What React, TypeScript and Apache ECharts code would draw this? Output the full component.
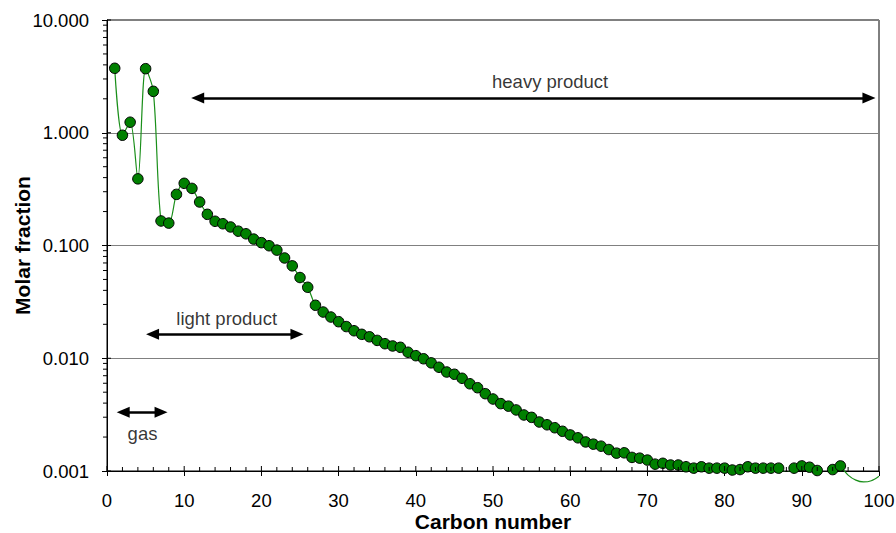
import React, { useEffect, useRef } from "react";
import * as echarts from "echarts";

const FONT = "'Liberation Sans', Arial, Helvetica, sans-serif";

const carbonNumber = [
  1, 2, 3, 4, 5, 6, 7, 8, 9, 10, 11, 12, 13, 14, 15, 16, 17, 18, 19, 20,
  21, 22, 23, 24, 25, 26, 27, 28, 29, 30, 31, 32, 33, 34, 35, 36, 37, 38, 39, 40,
  41, 42, 43, 44, 45, 46, 47, 48, 49, 50, 51, 52, 53, 54, 55, 56, 57, 58, 59, 60,
  61, 62, 63, 64, 65, 66, 67, 68, 69, 70, 71, 72, 73, 74, 75, 76, 77, 78, 79, 80,
  81, 82, 83, 84, 85, 86, 87, 88, 89, 90, 91, 92, 93, 94, 95,
];

const molarFraction = [
  3.73, 0.95, 1.24, 0.39, 3.7, 2.33, 0.165, 0.158, 0.284, 0.356,
  0.321, 0.243, 0.189, 0.164, 0.156, 0.146, 0.134, 0.127, 0.114, 0.106,
  0.0995, 0.091, 0.0775, 0.066, 0.052, 0.0426, 0.0295, 0.0257, 0.0232, 0.0211,
  0.0191, 0.01754, 0.0163, 0.0155, 0.0144, 0.01346, 0.01285, 0.0125, 0.0113, 0.01054,
  0.0099, 0.0091, 0.00832, 0.00755, 0.00721, 0.00664, 0.00594, 0.00548, 0.00485, 0.00435,
  0.00396, 0.00376, 0.00348, 0.00314, 0.00299, 0.00272, 0.00257, 0.00242, 0.00225, 0.00209,
  0.00197, 0.00181, 0.00173, 0.00166, 0.00155, 0.00144, 0.00145, 0.00132, 0.0013, 0.00125,
  0.00115, 0.00117, 0.00113, 0.00113, 0.00109, 0.00106, 0.00109, 0.00106, 0.00106, 0.00106,
  0.00102, 0.00103, 0.00109, 0.00106, 0.00106, 0.00106, 0.00106, 0.00097, 0.00106, 0.00111,
  0.00108, 0.00101, 0.00095, 0.00103, 0.00111,
];

// smoothed line continuing below the axis after the last point
const tailCarbon = [95, 96, 97, 98, 99, 100];
const tailFraction = [0.00111, 0.00092, 0.00083, 0.0008, 0.00082, 0.0009];

// double-headed arrows (data coords)
const arrowNames = ["heavy product", "light product", "gas"];
const arrowFromX = [11.75, 5.9, 2.1];
const arrowToX = [98.7, 24.6, 7.0];
const arrowY = [2.03, 0.0163, 0.00332];

// annotation texts (data coords)
const labelX = [57.4, 15.5, 4.6];
const labelY = [2.84, 0.0226, 0.00217];

const yMajor = [0.001, 0.01, 0.1, 1, 10];
const mantissas = [2, 3, 4, 5, 6, 7, 8, 9];
const xMajor = [0, 10, 20, 30, 40, 50, 60, 70, 80, 90, 100];

export default function App() {
  const ref = useRef<HTMLDivElement>(null);

  useEffect(() => {
    document.body.style.margin = "0";
    const chart = echarts.init(ref.current!, null, { renderer: "svg" });

    const mainData = carbonNumber.map((c, i) => [c, molarFraction[i]]);
    const tailData = tailCarbon.map((c, i) => [c, tailFraction[i]]);

    // tick marks: [x, y, kind] kind 0 = y minor (left), 1 = x minor (up), 2 = y major inner (right), 3 = x major inner (up)
    const ticks: number[][] = [];
    for (let d = 0; d < yMajor.length - 1; d++) {
      for (const m of mantissas) ticks.push([0, yMajor[d] * m, 0]);
    }
    for (let x = 2; x < 100; x += 2) {
      if (x % 10 !== 0) ticks.push([x, 0.001, 1]);
    }
    for (const v of yMajor) ticks.push([0, v, 2]);
    for (const x of xMajor) ticks.push([x, 0.001, 3]);

    const option: any = {
      animation: false,
      backgroundColor: "#fff",
      textStyle: { fontFamily: FONT },
      grid: {
        left: 107,
        right: 17,
        top: 20,
        bottom: 62,
        containLabel: false,
        outerBoundsMode: "none",
        show: true,
        borderColor: "#000",
        borderWidth: 1,
        backgroundColor: "transparent",
      },
      xAxis: {
        type: "value",
        min: 0,
        max: 100,
        interval: 10,
        axisLine: { onZero: false, lineStyle: { color: "#000", width: 1 } },
        axisTick: { show: true, length: 5, lineStyle: { color: "#000", width: 1 } },
        axisLabel: { margin: 20, fontSize: 18.5, color: "#000", fontFamily: FONT },
        splitLine: { show: false },
        name: "Carbon number",
        nameLocation: "middle",
        nameGap: 40,
        nameMoveOverlap: false,
        nameTextStyle: { fontWeight: "bold", fontSize: 21, color: "#000", fontFamily: FONT },
      },
      yAxis: {
        type: "log",
        logBase: 10,
        min: 0.001,
        max: 10,
        axisLine: { show: true, lineStyle: { color: "#000", width: 1 } },
        axisTick: { show: true, length: 5, lineStyle: { color: "#000", width: 1 } },
        axisLabel: {
          margin: 18,
          fontSize: 18.5,
          color: "#000",
          fontFamily: FONT,
          formatter: (v: number) => Number(v).toFixed(3),
        },
        splitLine: { show: true, lineStyle: { color: "#808080", width: 1 } },
        name: "Molar fraction",
        nameLocation: "middle",
        nameGap: 74,
        nameMoveOverlap: false,
        nameRotate: 90,
        nameTextStyle: { fontWeight: "bold", fontSize: 21, color: "#000", fontFamily: FONT },
      },
      series: [
        {
          type: "line",
          name: "molar fraction",
          data: mainData,
          smooth: 0.3,
          symbol: "circle",
          symbolSize: 10.5,
          clip: true,
          itemStyle: { color: "#008000", borderColor: "#000", borderWidth: 1 },
          lineStyle: { color: "#1a8f1a", width: 1.2 },
          z: 4,
        },
        {
          type: "line",
          name: "tail",
          data: tailData,
          smooth: 0.3,
          symbol: "none",
          clip: false,
          lineStyle: { color: "#1a8f1a", width: 1.2 },
          z: 3,
        },
        {
          type: "scatter",
          name: "annotations",
          data: arrowNames.map((n, i) => ({ name: n, value: [labelX[i], labelY[i]] })),
          symbolSize: 1,
          itemStyle: { color: "rgba(0,0,0,0)" },
          label: {
            show: true,
            position: "inside",
            formatter: "{b}",
            fontSize: 18.5,
            color: "#000",
            fontFamily: FONT,
          },
          markLine: {
            silent: true,
            symbol: ["triangle", "triangle"],
            symbolSize: [11, 13],
            label: { show: false },
            lineStyle: { color: "#000", width: 2.5, type: "solid" },
            itemStyle: { color: "#000" },
            data: arrowNames.map((n, i) => [
              { name: n, coord: [arrowFromX[i], arrowY[i]] },
              { coord: [arrowToX[i], arrowY[i]] },
            ]),
          },
          z: 5,
        },
        {
          type: "custom",
          name: "ticks",
          data: ticks,
          clip: false,
          silent: true,
          encode: { x: 0, y: 1 },
          renderItem: (params: any, api: any) => {
            const p = api.coord([api.value(0), api.value(1)]);
            const kind = api.value(2);
            let shape;
            if (kind === 0) shape = { x1: p[0] - 4, y1: p[1], x2: p[0], y2: p[1] };
            else if (kind === 1) shape = { x1: p[0], y1: p[1], x2: p[0], y2: p[1] - 4 };
            else if (kind === 2) shape = { x1: p[0], y1: p[1], x2: p[0] + 4, y2: p[1] };
            else shape = { x1: p[0], y1: p[1], x2: p[0], y2: p[1] - 5 };
            return { type: "line", shape, style: { stroke: "#000", lineWidth: 1 } };
          },
          z: 6,
        },
      ],
    };

    chart.setOption(option);
    return () => chart.dispose();
  }, []);

  return <div ref={ref} style={{ width: 896, height: 533 }} />;
}
